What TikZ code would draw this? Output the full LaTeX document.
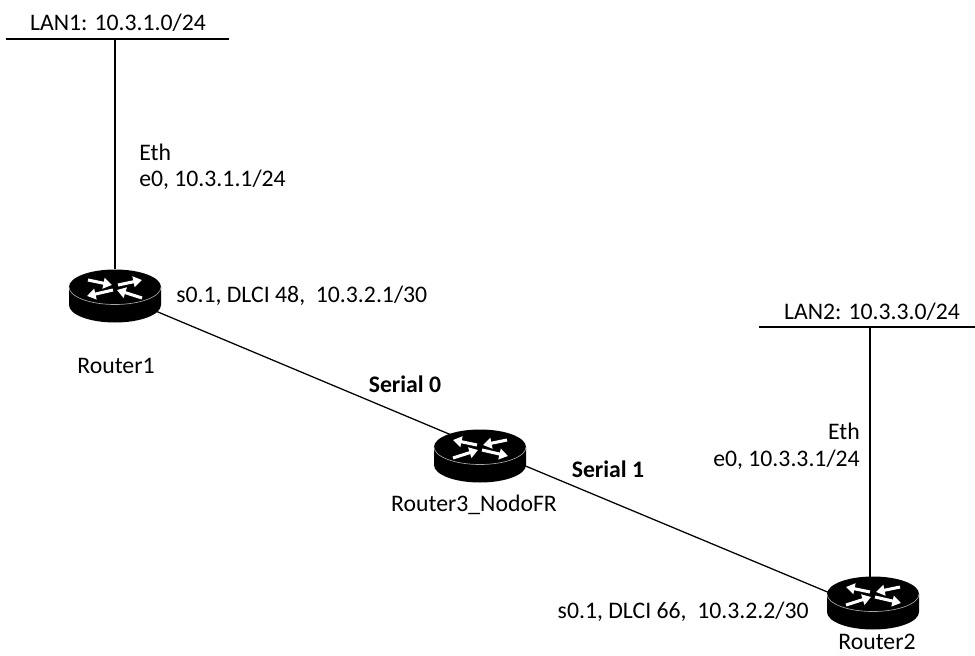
\documentclass[tikz,border=0pt]{standalone}
\usepackage{fontspec}
\setmainfont{Carlito}
\usetikzlibrary{arrows.meta}
\tikzset{
  routerbox/.style={minimum width=69pt,minimum height=40pt,inner sep=0pt},
  wire/.style={line width=0.95pt,black},
  lbl/.style={font=\fontsize{17.8}{20}\selectfont,inner sep=0pt},
  blbl/.style={lbl,font=\fontsize{17.8}{20}\selectfont\bfseries},
  whitearrow/.style={-{Triangle[length=6.5pt,width=8pt]},white,line width=2.3pt},
  router/.pic={
    \fill[black] (-46,-9) -- (-46,9) arc[start angle=180,end angle=0,x radius=46,y radius=17.5] -- (46,-9) arc[start angle=0,end angle=-180,x radius=46,y radius=17.5] -- cycle;
    \draw[gray!70,line width=0.5pt] (-46,-9) arc[start angle=180,end angle=0,x radius=46,y radius=17.5];
    \draw[whitearrow] (-27,-16) -- (-3,-11);
    \draw[whitearrow] (3,-11) -- (27,-16);
    \draw[whitearrow] (-2,-6) -- (-28,0);
    \draw[whitearrow] (27,2) -- (2,-6);
  }
}
\begin{document}
\begin{tikzpicture}[x=0.75pt,y=-0.75pt]
  \useasboundingbox (0,0) rectangle (975,656);

  \node[routerbox] (router1) at (115,296) {};
  \node[routerbox] (router3) at (480,456) {};
  \node[routerbox] (router2) at (873,603) {};

  \coordinate (lan1a) at (6,39);
  \coordinate (lan1b) at (229,39);
  \coordinate (lan1t) at (115,39);
  \coordinate (lan2a) at (759,327);
  \coordinate (lan2b) at (975,327);
  \coordinate (lan2t) at (870,327);

  \draw[wire] (lan1a) -- (lan1b);
  \draw[wire] (lan2a) -- (lan2b);
  \draw[wire] (lan1t) -- (router1);
  \draw[wire] (lan2t) -- (lan2t |- router2);
  \draw[wire] ([yshift=1.5pt]router1.center) -- ([yshift=6.75pt]router3.center);
  \draw[wire] ([yshift=6.75pt]router3.center) -- ([yshift=-6pt]router2.center);

  \pic at (router1) {router};
  \pic[xscale=-1] at (router3) {router};
  \pic[xscale=-1] at (router2) {router};

  \node[lbl] (lan1) at (118,23) {LAN1: 10.3.1.0/24};
  \node[lbl,anchor=west] (eth1) at (139,152) {Eth};
  \node[lbl,anchor=west] (e1) at (139,180) {e0, 10.3.1.1/24};
  \node[lbl,anchor=west] (s1) at (176,296) {s0.1, DLCI 48,\ \ 10.3.2.1/30};
  \node[lbl] (name1) at (116,366) {Router1};
  \node[blbl] (ser0) at (405,384) {Serial 0};
  \node[blbl] (ser1) at (608,469) {Serial 1};
  \node[lbl] (name3) at (474,505) {Router3\_NodoFR};
  \node[lbl] (lan2) at (872,312) {LAN2: 10.3.3.0/24};
  \node[lbl,anchor=east] (eth2) at (860,431) {Eth};
  \node[lbl,anchor=east] (e2) at (860,460) {e0, 10.3.3.1/24};
  \node[lbl,anchor=east] (s2) at (809,612) {s0.1, DLCI 66,\ \ 10.3.2.2/30};
  \node[lbl] (name2) at (877,642) {Router2};
\end{tikzpicture}
\end{document}
